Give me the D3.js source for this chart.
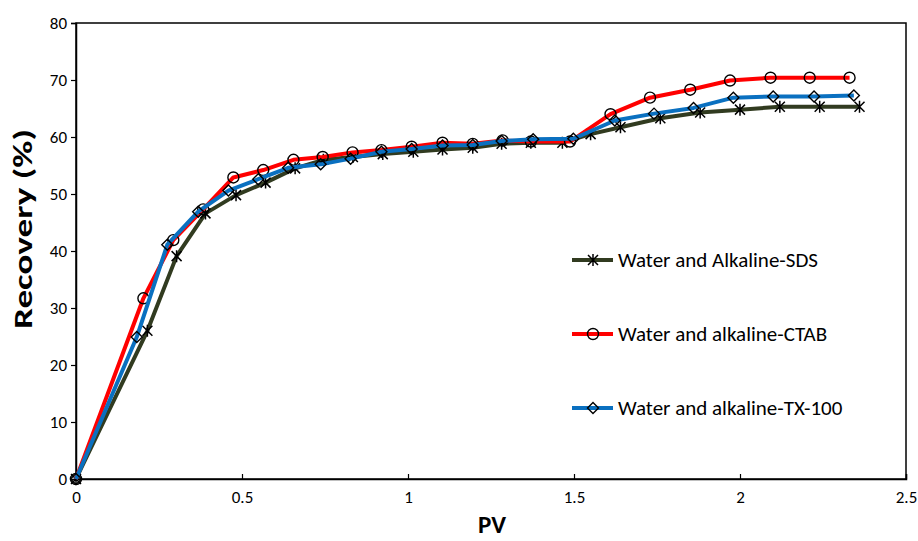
<!DOCTYPE html>
<html>
<head>
<meta charset="utf-8">
<script src="https://cdn.jsdelivr.net/npm/d3@7"></script>
<style>
  body { margin: 0; background: #fff; }
  svg { font-family: Carlito, Lato, "Open Sans", sans-serif; }
</style>
</head>
<body>
<svg id="chart" width="918" height="541"></svg>
<script>
// data
const sdsPV  = [0, 0.215, 0.303, 0.39, 0.482, 0.571, 0.66, 0.745, 0.834, 0.924, 1.016, 1.104, 1.195, 1.282, 1.37, 1.465, 1.55, 1.64, 1.76, 1.88, 2.0, 2.12, 2.24, 2.36];
const sdsRec = [0, 26.0, 39.1, 46.6, 49.8, 52.0, 54.5, 56.0, 56.5, 57.0, 57.4, 57.8, 58.1, 58.8, 59.0, 59.0, 60.5, 61.7, 63.3, 64.3, 64.8, 65.3, 65.3, 65.3];

const ctabPV  = [0, 0.203, 0.293, 0.383, 0.474, 0.564, 0.655, 0.743, 0.833, 0.92, 1.011, 1.104, 1.195, 1.285, 1.37, 1.488, 1.61, 1.729, 1.85, 1.97, 2.092, 2.21, 2.33];
const ctabRec = [0, 31.7, 41.9, 47.3, 52.9, 54.2, 56.0, 56.5, 57.3, 57.7, 58.3, 59.0, 58.8, 59.4, 59.2, 59.2, 64.0, 66.9, 68.3, 69.9, 70.4, 70.4, 70.4];

const txPV  = [0, 0.183, 0.275, 0.368, 0.459, 0.549, 0.639, 0.737, 0.827, 0.92, 1.011, 1.104, 1.195, 1.282, 1.377, 1.498, 1.623, 1.741, 1.86, 1.98, 2.1, 2.223, 2.343];
const txRec = [0, 24.9, 41.1, 46.9, 50.6, 52.6, 54.6, 55.2, 56.2, 57.4, 57.9, 58.5, 58.6, 59.3, 59.6, 59.7, 62.9, 64.1, 65.1, 66.9, 67.1, 67.1, 67.3];

const seriesNames = ["Water and Alkaline-SDS", "Water and alkaline-CTAB", "Water and alkaline-TX-100"];
const xTicks = [0, 0.5, 1, 1.5, 2, 2.5];
const yTicks = [0, 10, 20, 30, 40, 50, 60, 70, 80];

const series = [
    {name: seriesNames[0], x: sdsPV, y: sdsRec, color: "#313b20", marker: "star"},
    {name: seriesNames[1], x: ctabPV, y: ctabRec, color: "#ff0000", marker: "circle"},
    {name: seriesNames[2], x: txPV, y: txRec, color: "#0a70c0", marker: "diamond"}
];

const svg = d3.select("#chart");
const margin = {left: 76, top: 23, right: 12, bottom: 62};
const W = 918 - margin.left - margin.right;
const H = 541 - margin.top - margin.bottom;

const x = d3.scaleLinear().domain([0, 2.5]).range([0, W]);
const y = d3.scaleLinear().domain([0, 80]).range([H, 0]);

const g = svg.append("g").attr("transform", `translate(${margin.left},${margin.top})`);

// frame
g.append("rect").attr("width", W).attr("height", H)
    .attr("fill", "none").attr("stroke", "#000").attr("stroke-width", 1.5);

const yAxis = g.append("g")
    .call(d3.axisLeft(y).tickValues(yTicks).tickSize(5).tickPadding(4));
const xAxis = g.append("g").attr("transform", `translate(0,${H})`)
    .call(d3.axisBottom(x).tickValues(xTicks).tickFormat(d3.format("")).tickSize(-5).tickPadding(12));

[xAxis, yAxis].forEach(a => {
    a.select(".domain").attr("stroke", "#000").attr("stroke-width", 1.5);
    a.selectAll(".tick line").attr("stroke", "#000").attr("stroke-width", 1.2);
    a.selectAll("text").attr("font-size", 17).attr("fill", "#000").attr("font-family", "Carlito, Lato, sans-serif");
});

// axis titles
svg.append("text").attr("x", margin.left + W / 2 + 1).attr("y", 533)
    .attr("text-anchor", "middle").attr("font-size", 25).attr("font-weight", "bold").text("PV");
svg.append("text").attr("transform", "translate(32,229) rotate(-90)")
    .attr("text-anchor", "middle").attr("font-size", 27).attr("font-weight", "bold")
    .attr("textLength", 200).attr("lengthAdjust", "spacingAndGlyphs").text("Recovery (%)");

const line = d3.line().x(d => x(d[0])).y(d => y(d[1]));

function drawMarker(sel, type) {
    if (type === "circle") {
        sel.append("circle").attr("r", 5.5).attr("fill", "none")
            .attr("stroke", "#000").attr("stroke-width", 1.4);
    } else if (type === "diamond") {
        sel.append("path").attr("d", "M0,-5.5L5.5,0L0,5.5L-5.5,0Z").attr("fill", "none")
            .attr("stroke", "#000").attr("stroke-width", 1.4);
    } else {
        sel.append("path").attr("d", "M-5,-5L5,5M-5,5L5,-5M0,-6L0,6")
            .attr("fill", "none").attr("stroke", "#000").attr("stroke-width", 1.5);
    }
}

series.forEach(s => {
    const pts = s.x.map((v, i) => [v, s.y[i]]);
    g.append("path").datum(pts).attr("d", line)
        .attr("fill", "none").attr("stroke", s.color).attr("stroke-width", 4)
        .attr("stroke-linejoin", "round");
    g.selectAll(null).data(pts).enter().append("g")
        .attr("transform", d => `translate(${x(d[0])},${y(d[1])})`)
        .each(function() { drawMarker(d3.select(this), s.marker); });
});

// legend
const legendY = [260, 334, 408];
series.forEach((s, i) => {
    const lg = svg.append("g").attr("transform", `translate(572,${legendY[i]})`);
    lg.append("line").attr("x1", 0).attr("x2", 41).attr("stroke", s.color).attr("stroke-width", 4);
    const m = lg.append("g").attr("transform", "translate(21,0)");
    drawMarker(m, s.marker);
    lg.append("text").attr("x", 46).attr("y", 0).attr("dy", "0.35em")
        .attr("font-size", 21).attr("fill", "#000").text(s.name);
});
</script>
</body>
</html>
